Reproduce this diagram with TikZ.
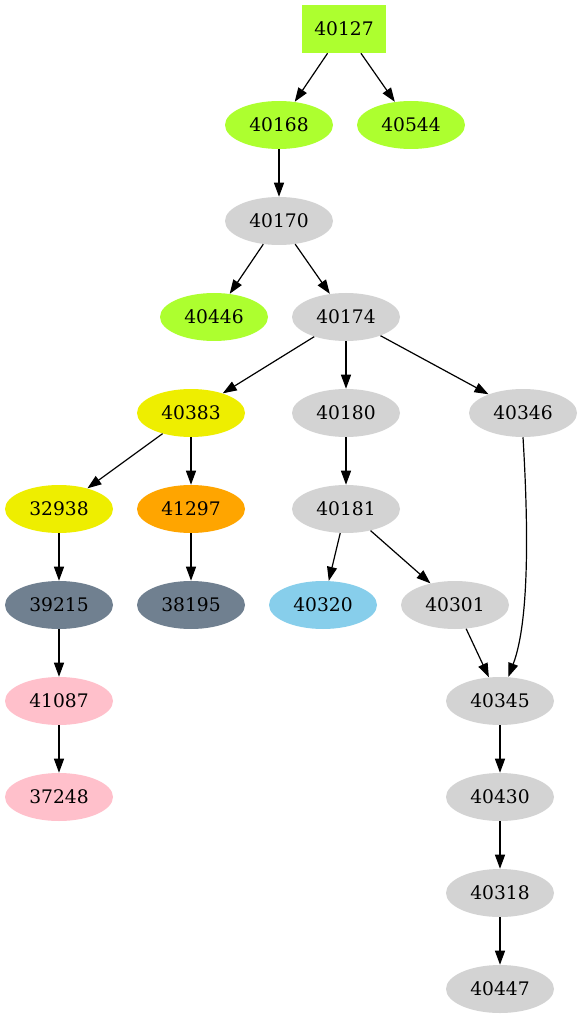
\documentclass[tikz,border=0pt]{standalone}
\usepackage{fontspec}
\setmainfont{DejaVu Serif}
\usetikzlibrary{shapes.geometric,arrows.meta}
\definecolor{cgreen}{HTML}{ADFF2F}
\definecolor{cgray}{HTML}{D3D3D3}
\definecolor{cyellow}{HTML}{EEEE00}
\definecolor{corange}{HTML}{FFA500}
\definecolor{cslate}{HTML}{708090}
\definecolor{csky}{HTML}{87CEEB}
\definecolor{cpink}{HTML}{FFC0CB}
\tikzset{
  ell/.style={ellipse, draw=none, minimum width=81pt, minimum height=36pt, inner sep=0pt, font=\fontsize{14}{16}\selectfont},
  boxnode/.style={rectangle, draw=none, minimum width=63pt, minimum height=36pt, inner sep=0pt, font=\fontsize{14}{16}\selectfont},
  edge/.style={draw=black, line width=0.9pt, -{Triangle[length=10.5pt,width=7.5pt]}}
}
\begin{document}
\begin{tikzpicture}[x=0.75pt,y=-0.75pt]
\useasboundingbox (0,0) rectangle (582,1019);
\node[boxnode, fill=cgreen] (n40127) at (344,29) {40127};
\node[ell, fill=cgreen] (n40168) at (279,125) {40168};
\node[ell, fill=cgreen] (n40544) at (411,125) {40544};
\node[ell, fill=cgray] (n40170) at (279,221) {40170};
\node[ell, fill=cgreen] (n40446) at (214,317) {40446};
\node[ell, fill=cgray] (n40174) at (346,317) {40174};
\node[ell, fill=cyellow] (n40383) at (191,413) {40383};
\node[ell, fill=cgray] (n40180) at (346,413) {40180};
\node[ell, fill=cgray] (n40346) at (523,413) {40346};
\node[ell, fill=cyellow] (n32938) at (59,509) {32938};
\node[ell, fill=corange] (n41297) at (191,509) {41297};
\node[ell, fill=cgray] (n40181) at (346,509) {40181};
\node[ell, fill=cslate] (n39215) at (59,605) {39215};
\node[ell, fill=cslate] (n38195) at (191,605) {38195};
\node[ell, fill=csky] (n40320) at (323,605) {40320};
\node[ell, fill=cgray] (n40301) at (455,605) {40301};
\node[ell, fill=cpink] (n41087) at (59,701) {41087};
\node[ell, fill=cgray] (n40345) at (500,701) {40345};
\node[ell, fill=cpink] (n37248) at (59,797) {37248};
\node[ell, fill=cgray] (n40430) at (500,797) {40430};
\node[ell, fill=cgray] (n40318) at (500,893) {40318};
\node[ell, fill=cgray] (n40447) at (500,989) {40447};

\draw[edge] (n40127) -- (n40168);
\draw[edge] (n40127) -- (n40544);
\draw[edge] (n40168) -- (n40170);
\draw[edge] (n40170) -- (n40446);
\draw[edge] (n40170) -- (n40174);
\draw[edge] (n40174) -- (n40383);
\draw[edge] (n40174) -- (n40180);
\draw[edge] (n40174) -- (n40346);
\draw[edge] (n40383) -- (n32938);
\draw[edge] (n40383) -- (n41297);
\draw[edge] (n40180) -- (n40181);
\draw[edge] (n32938) -- (n39215);
\draw[edge] (n41297) -- (n38195);
\draw[edge] (n40181) -- (n40320);
\draw[edge] (n40181) -- (n40301);
\draw[edge] (n39215) -- (n41087);
\draw[edge] (n41087) -- (n37248);
\draw[edge] (n40301) -- (n40345);
\draw[edge] (n40346.south) .. controls (528,520) and (530,620) .. (n40345.71);
\draw[edge] (n40345) -- (n40430);
\draw[edge] (n40430) -- (n40318);
\draw[edge] (n40318) -- (n40447);
\end{tikzpicture}
\end{document}
